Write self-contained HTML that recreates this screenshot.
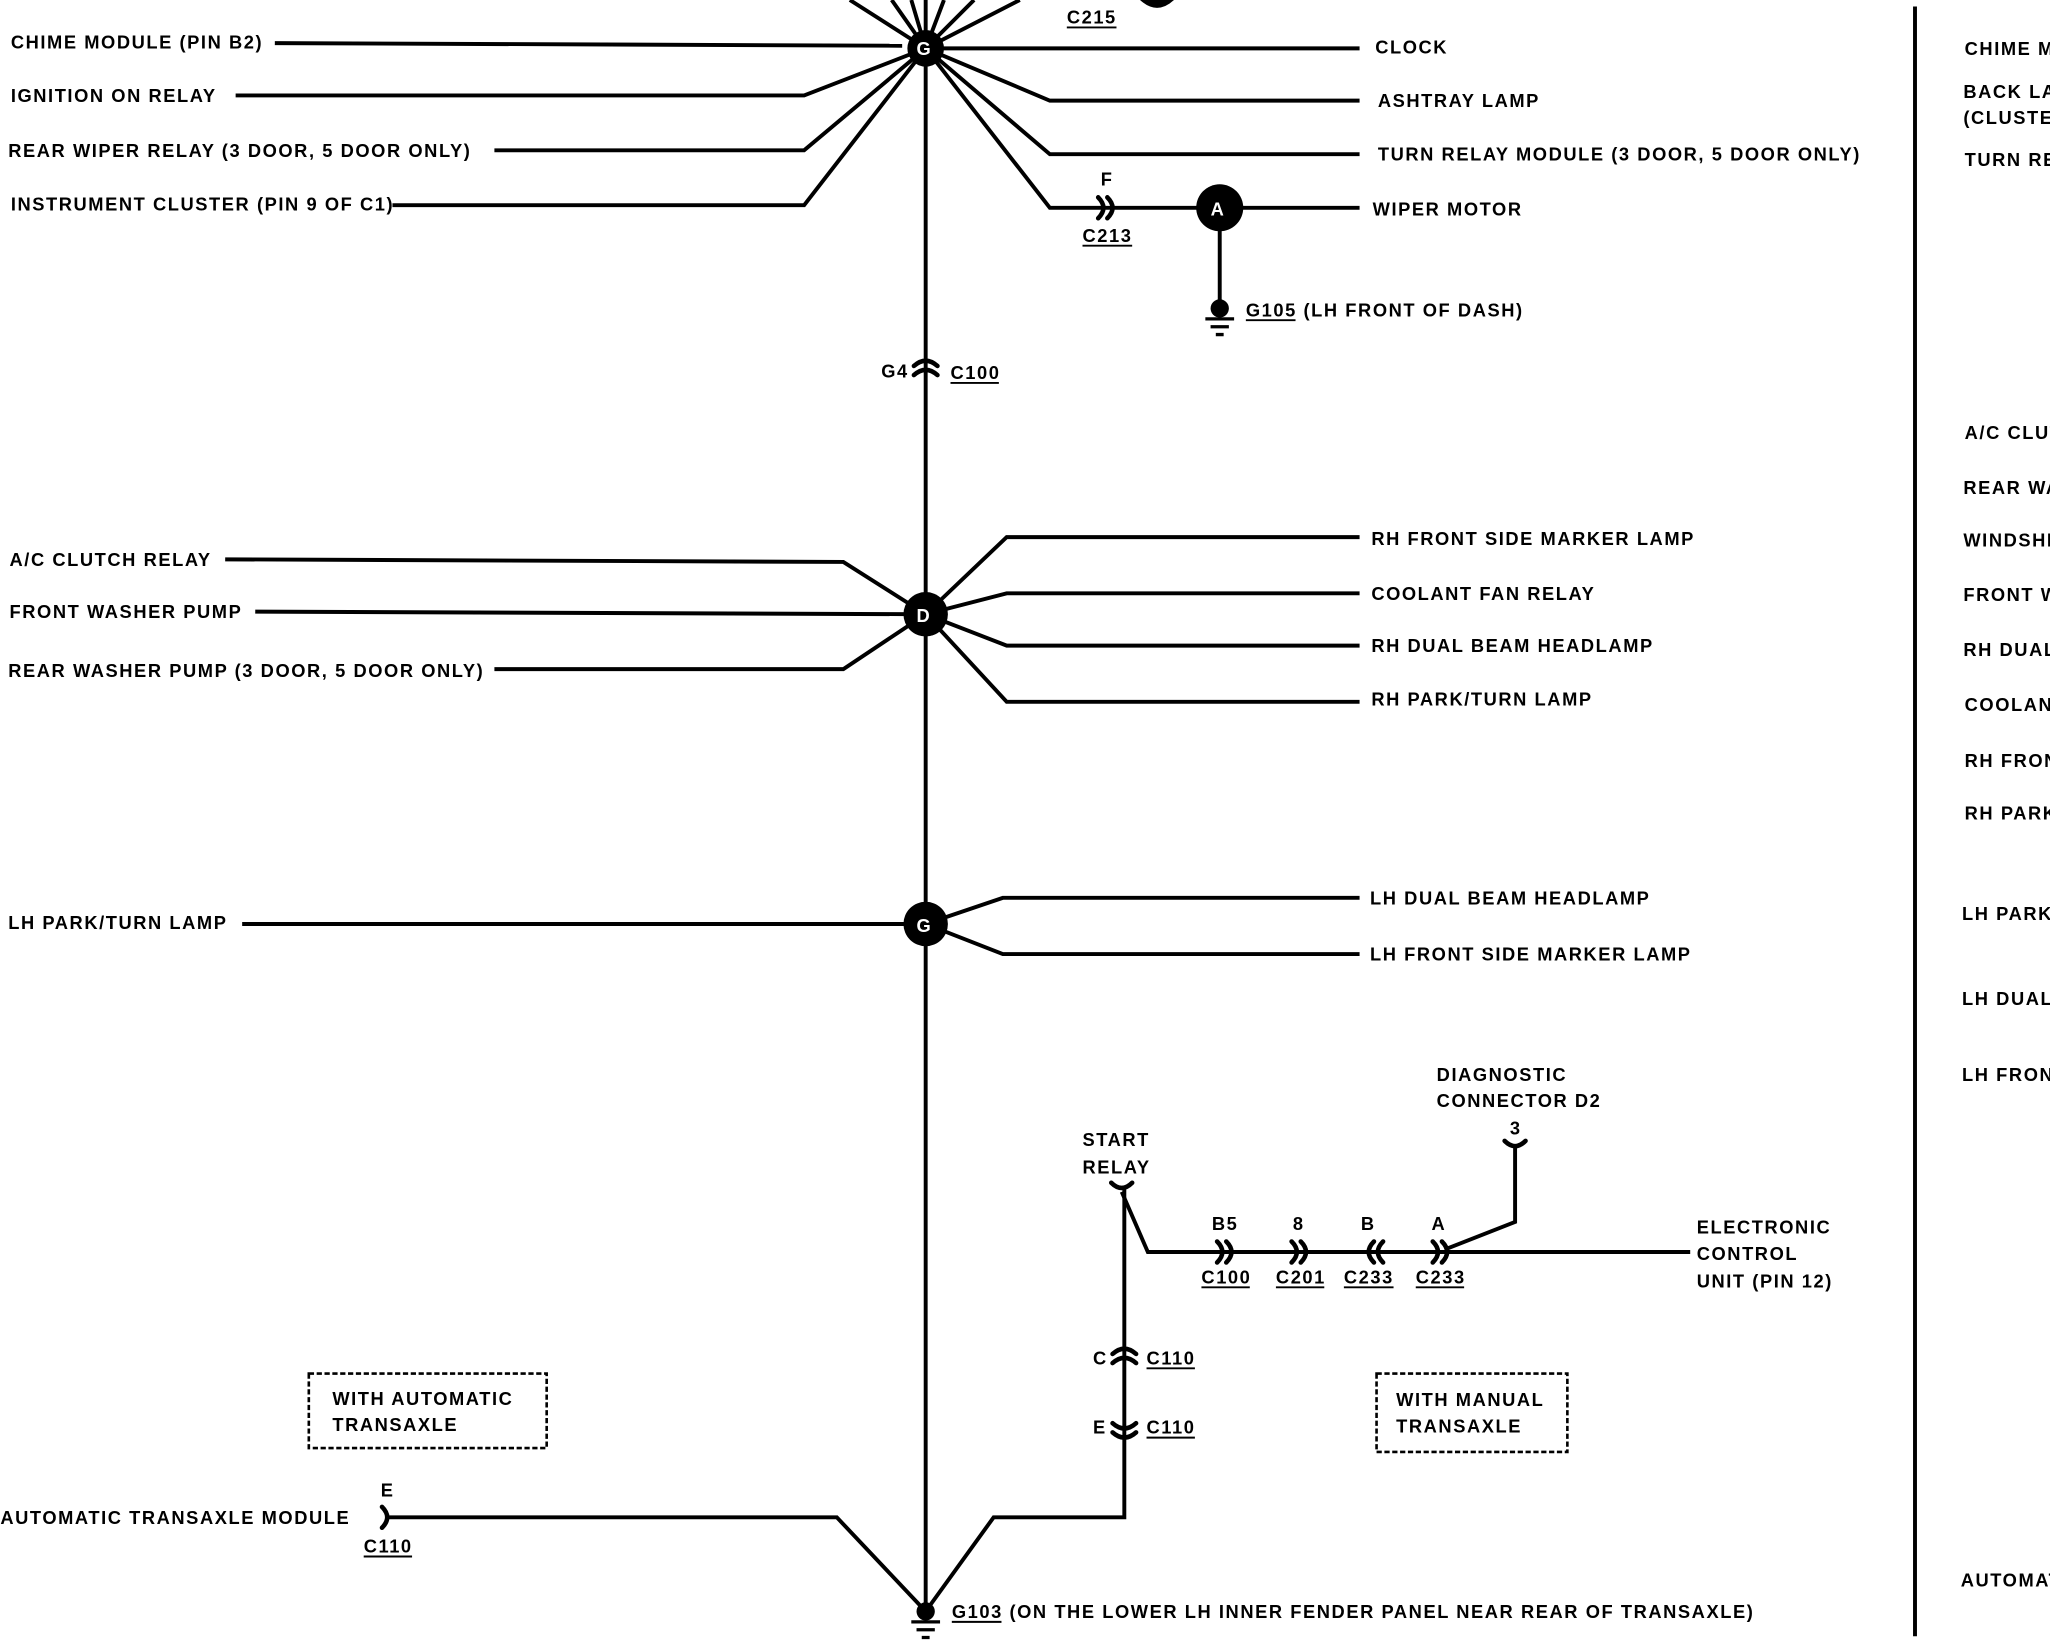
<!DOCTYPE html>
<html><head><style>
html,body{margin:0;padding:0;background:#fff;}
svg{display:block}
text{font-family:"Liberation Sans",Arial,sans-serif;font-weight:bold;font-size:14px;fill:#000;letter-spacing:1.2px}
</style></head><body>
<svg width="2050" height="1648" viewBox="0 0 1568 1261" xmlns="http://www.w3.org/2000/svg">
<rect width="1568" height="1261" fill="#fff"/>
<g stroke="#000" stroke-width="3" fill="none" stroke-linejoin="miter">
<path d="M708,37 L650,0 M708,37 L682,0 M708,37 L697,0 M708,37 L708,0 M708,37 L722,0 M708,37 L745,0 M708,37 L780,0"/>
<path d="M210,33 L690,35"/>
<path d="M180,73 L615,73 L708,37"/>
<path d="M378,115 L615,115 L708,37"/>
<path d="M300,157 L615,157 L708,37"/>
<path d="M708,37 L1040,37"/>
<path d="M708,37 L803,77 L1040,77"/>
<path d="M708,37 L803,118 L1040,118"/>
<path d="M708,37 L803,159 L1040,159"/>
<path d="M933,159 L933,236"/>
<path d="M708,37 L708,1233"/>
<path d="M172,428 L645,430 L708,470"/>
<path d="M195,468 L708,470"/>
<path d="M378,512 L645,512 L708,470"/>
<path d="M708,470 L770,411 L1040,411"/>
<path d="M708,470 L770,454 L1040,454"/>
<path d="M708,470 L770,494 L1040,494"/>
<path d="M708,470 L770,537 L1040,537"/>
<path d="M185,707 L708,707"/>
<path d="M708,707 L767,687 L1040,687"/>
<path d="M708,707 L767,730 L1040,730"/>
<path d="M297,1161 L640,1161 L708,1233"/>
<path d="M708,1233 L760,1161 L860,1161 L860,910"/>
<path d="M858,912 L878,958 L1293,958"/>
<path d="M1159,878 L1159,935 L1108,955"/>
<path d="M1465,5 L1465,1252"/>
</g>
<g stroke="#000" stroke-width="3.5" fill="none" stroke-linecap="round">
<path d="M840,151 Q848,159 840,167 M847,151 Q855,159 847,167"/>
<path d="M931,950 Q939,958 931,966 M938,950 Q946,958 938,966"/>
<path d="M988,950 Q996,958 988,966 M995,950 Q1003,958 995,966"/>
<path d="M1051,950 Q1043,958 1051,966 M1058,950 Q1050,958 1058,966"/>
<path d="M1096,950 Q1104,958 1096,966 M1103,950 Q1111,958 1103,966"/>
<path d="M699,280 Q708,272 717,280 M699,287 Q708,279 717,287"/>
<path d="M851,1036 Q860,1028 869,1036 M851,1043 Q860,1035 869,1043"/>
<path d="M851,1089 Q860,1097 869,1089 M851,1096 Q860,1104 869,1096"/>
<path d="M850,905 Q858,913 866,905"/>
<path d="M1151,873 Q1159,881 1167,873"/>
<path d="M292,1153 Q300,1161 292,1169"/>
</g>
<circle cx="708" cy="37" r="14" fill="#000"/>
<circle cx="708" cy="470" r="17" fill="#000"/>
<circle cx="708" cy="707" r="17" fill="#000"/>
<circle cx="933" cy="159" r="18" fill="#000"/>
<circle cx="933" cy="236" r="7" fill="#000"/>
<circle cx="708" cy="1233" r="7" fill="#000"/>
<path d="M872,0 Q885,12 898,0 Z" fill="#000"/>
<g stroke="#000" stroke-width="2.5">
<path d="M922,244 L944,244 M926,250 L940,250 M930,256 L936,256"/>
<path d="M697,1241 L719,1241 M701,1247 L715,1247 M705,1253 L711,1253"/>
</g>
<g font-size="15">
<text x="701" y="42" style="fill:#fff">G</text>
<text x="701" y="476" style="fill:#fff">D</text>
<text x="701" y="713" style="fill:#fff">G</text>
<text x="926" y="165" style="fill:#fff">A</text>
</g>
<text x="8" y="37">CHIME MODULE (PIN B2)</text>
<text x="8" y="78">IGNITION ON RELAY</text>
<text x="6" y="120">REAR WIPER RELAY (3 DOOR, 5 DOOR ONLY)</text>
<text x="8" y="161">INSTRUMENT CLUSTER (PIN 9 OF C1)</text>
<text x="7" y="433">A/C CLUTCH RELAY</text>
<text x="7" y="473">FRONT WASHER PUMP</text>
<text x="6" y="518">REAR WASHER PUMP (3 DOOR, 5 DOOR ONLY)</text>
<text x="6" y="711">LH PARK/TURN LAMP</text>
<text x="0" y="1166">AUTOMATIC TRANSAXLE MODULE</text>
<text x="1052" y="41">CLOCK</text>
<text x="1054" y="82">ASHTRAY LAMP</text>
<text x="1054" y="123">TURN RELAY MODULE (3 DOOR, 5 DOOR ONLY)</text>
<text x="1050" y="165">WIPER MOTOR</text>
<text x="953" y="242">G105 (LH FRONT OF DASH)</text>
<text x="1049" y="417">RH FRONT SIDE MARKER LAMP</text>
<text x="1049" y="459">COOLANT FAN RELAY</text>
<text x="1049" y="499">RH DUAL BEAM HEADLAMP</text>
<text x="1049" y="540">RH PARK/TURN LAMP</text>
<text x="1048" y="692">LH DUAL BEAM HEADLAMP</text>
<text x="1048" y="735">LH FRONT SIDE MARKER LAMP</text>
<text x="1099" y="827">DIAGNOSTIC</text>
<text x="1099" y="847">CONNECTOR D2</text>
<text x="1155" y="868">3</text>
<text x="828" y="877">START</text>
<text x="828" y="898">RELAY</text>
<text x="1298" y="944">ELECTRONIC</text>
<text x="1298" y="964">CONTROL</text>
<text x="1298" y="985">UNIT (PIN 12)</text>
<text x="728" y="1238">G103 (ON THE LOWER LH INNER FENDER PANEL NEAR REAR OF TRANSAXLE)</text>
<text x="816" y="18">C215</text>
<text x="842" y="142">F</text>
<text x="828" y="185">C213</text>
<text x="674" y="289">G4</text>
<text x="727" y="290">C100</text>
<text x="927" y="941">B5</text>
<text x="989" y="941">8</text>
<text x="1041" y="941">B</text>
<text x="1095" y="941">A</text>
<text x="919" y="982">C100</text>
<text x="976" y="982">C201</text>
<text x="1028" y="982">C233</text>
<text x="1083" y="982">C233</text>
<text x="836" y="1044">C</text>
<text x="877" y="1044">C110</text>
<text x="836" y="1097">E</text>
<text x="877" y="1097">C110</text>
<text x="291" y="1145">E</text>
<text x="278" y="1188">C110</text>
<g stroke="#000" stroke-width="1.5">
<path d="M816,21 L854,21 M828,188 L866,188 M727,293 L764,293 M919,985 L956,985 M976,985 L1013,985 M1028,985 L1066,985 M1083,985 L1120,985 M877,1047 L914,1047 M877,1100 L914,1100 M278,1191 L315,1191 M953,245 L991,245 M728,1241 L766,1241"/>
</g>
<g stroke="#000" stroke-width="2" fill="none" stroke-dasharray="4,2">
<rect x="236" y="1051" width="182" height="57"/>
<rect x="1053" y="1051" width="146" height="60"/>
</g>
<text x="254" y="1075">WITH AUTOMATIC</text>
<text x="254" y="1095">TRANSAXLE</text>
<text x="1068" y="1076">WITH MANUAL</text>
<text x="1068" y="1096">TRANSAXLE</text>
<g>
<text x="1503" y="42">CHIME MODULE</text>
<text x="1502" y="75">BACK LAMP</text>
<text x="1502" y="95">(CLUSTER)</text>
<text x="1503" y="127">TURN RELAY</text>
<text x="1503" y="336">A/C CLUTCH</text>
<text x="1502" y="378">REAR WASHER</text>
<text x="1502" y="418">WINDSHIELD</text>
<text x="1502" y="460">FRONT WASHER</text>
<text x="1502" y="502">RH DUAL BEAM</text>
<text x="1503" y="544">COOLANT FAN</text>
<text x="1503" y="587">RH FRONT</text>
<text x="1503" y="627">RH PARK</text>
<text x="1501" y="704">LH PARK</text>
<text x="1501" y="769">LH DUAL</text>
<text x="1501" y="827">LH FRONT</text>
<text x="1500" y="1214">AUTOMATIC</text>
</g>
</svg>
</body></html>
